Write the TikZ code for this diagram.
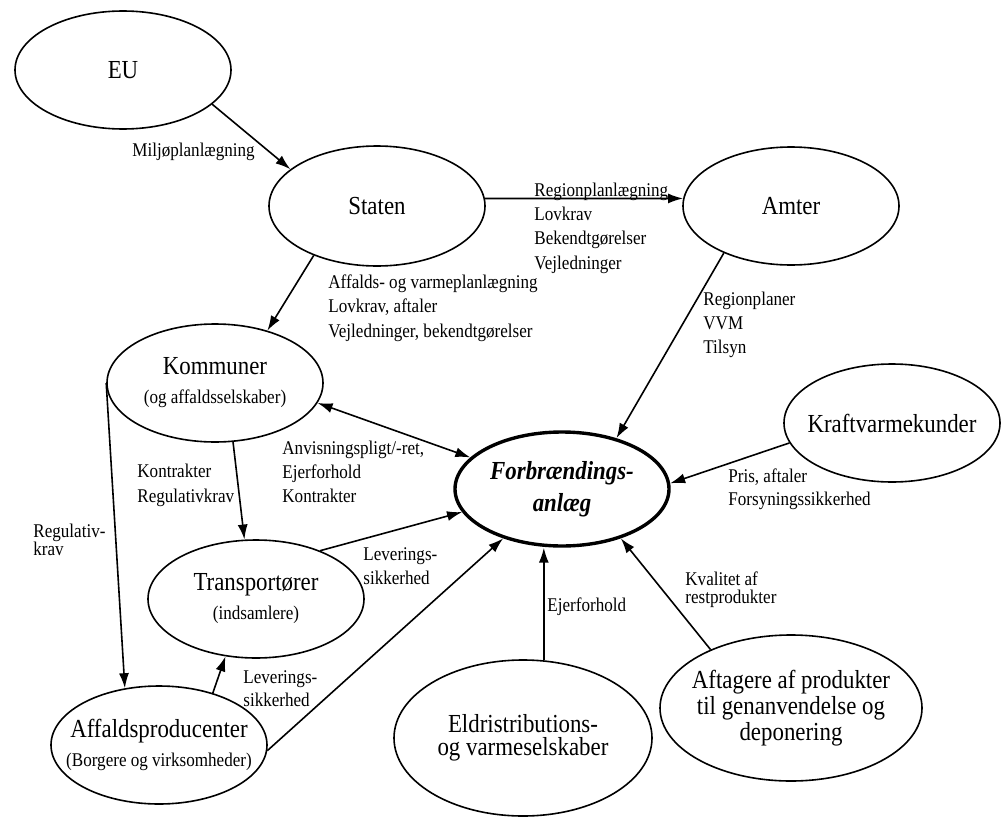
\documentclass[tikz,border=0pt]{standalone}
\usepackage{fontspec}
\setmainfont{Liberation Serif}[FakeStretch=0.88]
\usetikzlibrary{shapes.geometric, arrows.meta}

\newcommand{\actorfont}{\fontsize{13}{14.5}\selectfont}
\newcommand{\notefont}{\fontsize{9.7}{12.2}\selectfont}

\begin{document}
\begin{tikzpicture}[x=0.5pt, y=-0.5pt, >={Latex[length=7.5pt, width=5pt]},
  actor/.style={draw, ellipse, line width=0.8pt, inner sep=0pt, inner xsep=-12pt,
    minimum width=108pt, minimum height=59pt, align=center, font=\actorfont},
  note/.style={anchor=west, align=left, inner sep=0pt, font=\notefont},
  link/.style={->, line width=0.8pt}]

  % Frame
  \useasboundingbox (0,0) rectangle (1007,819);

  % Actors
  \node[actor] (eu) at (123,70) {EU};
  \node[actor, minimum height=60pt] (staten) at (377,206) {Staten};
  \node[actor] (amter) at (791,206) {Amter};
  \node[actor] (kraft) at (892,423) {Kraftvarmekunder};
  \node[actor] (kommuner) at (215,383) {Kommuner\\{\notefont (og affaldsselskaber)}};
  \node[actor] (transport) at (256,599) {Transportører\\{\notefont (indsamlere)}};
  \node[actor] (affald) at (159,745) {Affaldsproducenter\\{\notefont (Borgere og virksomheder)}};
  \node[actor, minimum width=129pt, minimum height=78pt, font={\fontsize{13}{11.5}\selectfont}]
    (eldistr) at (523,738) {Eldristributions-\\og varmeselskaber};
  \node[actor, minimum width=131pt, minimum height=73pt, font={\fontsize{13}{11.3}\selectfont}]
    (aftagere) at (791,708) {Aftagere af produkter\\til genanvendelse og\\deponering};

  % Plant
  \node[actor, line width=1.7pt, minimum width=107pt, minimum height=57pt,
    font={\fontsize{13}{16}\selectfont\bfseries\itshape}] (plant) at (562,489) {Forbrændings-\\anlæg};

  % Links
  \draw[link] (eu.-21) -- (staten.157);
  \draw[link] (staten.4) -- (amter.176);
  \draw[link] (staten.-142) -- (kommuner.45);
  \draw[link] (amter.-145) -- (plant.43);
  \draw[link] (kraft.-169) -- (plant.3);
  \draw[link, <->] (kommuner.-11) -- (plant.161);
  \draw[link] (kommuner.-73) -- (transport.101);
  \draw[link] (kommuner.west) -- (affald.121);
  \draw[link] (affald.44) -- (transport.-118);
  \draw[link] (transport.37) -- (plant.-167);
  \draw[link] (affald.-3) -- (plant.-140);
  \draw[link] (eldistr.75.5) -- (eldistr.75.5 |- plant.south);
  \draw[link] (aftagere.144) -- (plant.-40);

  % Labels
  \node[note] (miljo) at (132,152) {Miljøplanlægning};
  \node[note] (regplan) at (534,228) {Regionplanlægning\\Lovkrav\\Bekendtgørelser\\Vejledninger};
  \node[note] (affvarme) at (328,308) {Affalds- og varmeplanlægning\\Lovkrav, aftaler\\Vejledninger, bekendtgørelser};
  \node[note, font={\fontsize{9.7}{12}\selectfont}] (regionpl) at (703,325) {Regionplaner\\VVM\\Tilsyn};
  \node[note, font={\fontsize{9.7}{11.5}\selectfont}] (pris) at (728,489) {Pris, aftaler\\Forsyningssikkerhed};
  \node[note, font={\fontsize{9.7}{8.8}\selectfont}] (kvalitet) at (685,590) {Kvalitet af\\restprodukter};
  \node[note] (ejer) at (547,607) {Ejerforhold};
  \node[note, font={\fontsize{9.7}{12}\selectfont}] (anvis) at (282,472) {Anvisningspligt/-ret,\\Ejerforhold\\Kontrakter};
  \node[note, font={\fontsize{9.7}{12.5}\selectfont}] (kontrakt) at (137,485) {Kontrakter\\Regulativkrav};
  \node[note, font={\fontsize{9.7}{9.2}\selectfont}] (regkrav) at (33,540) {Regulativ-\\krav};
  \node[note, font={\fontsize{9.7}{12}\selectfont}] (lever1) at (363,566) {Leverings-\\sikkerhed};
  \node[note, font={\fontsize{9.7}{11.5}\selectfont}] (lever2) at (243,689) {Leverings-\\sikkerhed};

\end{tikzpicture}
\end{document}
